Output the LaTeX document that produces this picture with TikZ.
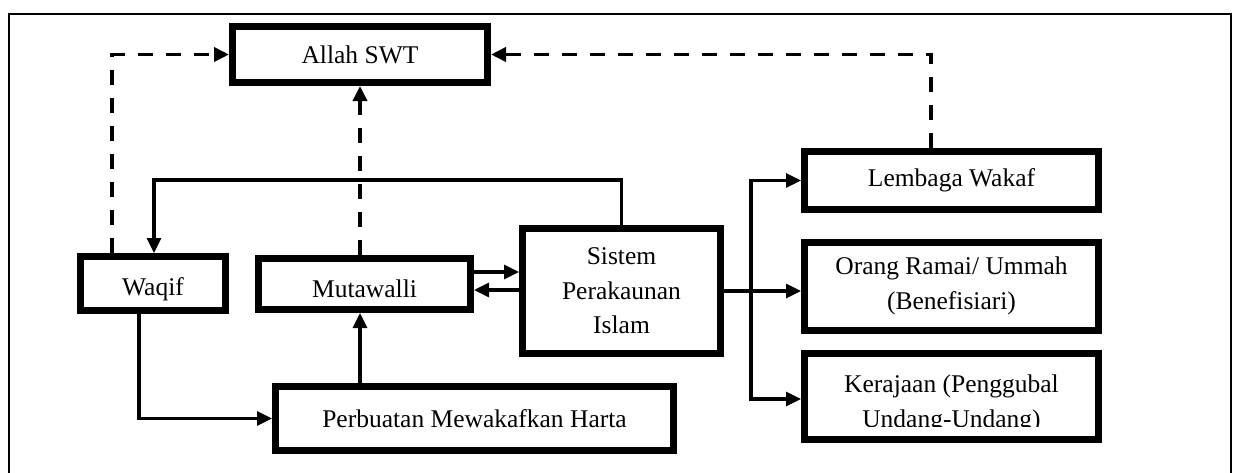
\documentclass[tikz,border=0pt]{standalone}
\usepackage{fontspec}
\setmainfont{Liberation Serif}
\usepackage{tikz}
\usetikzlibrary{positioning, calc, arrows.meta}

\tikzset{
  box/.style={draw, line width=3.5pt, align=center, inner sep=0pt,
    font=\fontsize{12.75}{17.25}\selectfont},
  txt/.style={align=center, inner sep=0pt, font=\fontsize{12.75}{17.25}\selectfont},
  link/.style={line width=1.6pt, -{Triangle[length=7.5pt,width=7pt]}},
  plainlink/.style={line width=1.6pt},
  dashlink/.style={line width=1.8pt, dash pattern=on 7.5pt off 6.5pt,
    -{Triangle[length=7.5pt,width=7pt]}},
  frame/.style={line width=1pt}
}

\begin{document}
\begin{tikzpicture}[x=0.5pt, y=-0.5pt]
    \useasboundingbox (0,0) rectangle (1235,472);

    % Outer frame
    \draw[frame] (9,480) |- (1231,14) -- (1231,480);

    % Boxes
    \node[box, minimum width=127.5pt, minimum height=28pt] (allah) at (360,54.5) {Allah SWT};
    \node[box, minimum width=72.5pt, minimum height=27pt, text height=12pt, text depth=0pt] (waqif) at (153,283.5) {Waqif};
    \node[box, minimum width=106pt, minimum height=25.5pt, text height=13pt, text depth=0pt] (mutawalli) at (364.5,284) {Mutawalli};
    \node[box, minimum width=99pt, minimum height=62.5pt] (sistem) at (621.5,291) {Sistem\\Perakaunan\\Islam};
    \node[box, minimum width=199pt, minimum height=32pt] (perbuatan) at (474.5,418.5) {Perbuatan Mewakafkan Harta};
    \node[box, minimum width=147pt, minimum height=29pt] (lembaga) at (951.5,180.5) {Lembaga Wakaf};
    \node[box, minimum width=147pt, minimum height=44pt] (orang) at (951.5,286) {Orang Ramai/ Ummah\\(Benefisiari)};

    % Kerajaan box, second line cut off at the bottom
    \begin{scope}
      \clip (806,354) rectangle (1097,426);
      \node[txt] (kerajaantext) at (951.5,404) {Kerajaan (Penggubal\\Undang-Undang)};
    \end{scope}
    \node[box, minimum width=147pt, minimum height=43pt] (kerajaan) at (951.5,396.5) {};

    % Turning points of the connectors
    \coordinate (dashL) at (112,55);
    \coordinate (dashR) at (931,55);
    \coordinate (loopTop) at (154,180);
    \coordinate (waqifDown) at (139,0);
    \coordinate (splitX) at (751,0);
    \coordinate (mutOut) at ($(mutawalli.east)+(0,-12)$);
    \coordinate (sisOut) at ($(sistem.west)+(0,-1)$);

    % Dashed links up to Allah SWT
    \draw[dashlink] (waqif.north -| dashL) |- (allah.west);
    \draw[dashlink] (mutawalli.north -| allah.south) -- (allah.south);
    \draw[dashlink] (lembaga.north -| dashR) |- (allah.east);

    % Solid links
    \draw[link] (sistem.north) |- (loopTop) -- (waqif.north -| loopTop);
    \draw[link] (waqif.south -| waqifDown) |- (perbuatan.west);
    \draw[link] (perbuatan.north -| allah.south) -- (mutawalli.south -| allah.south);
    \draw[link] (mutOut) -- (mutOut -| sistem.west);
    \draw[link] (sisOut) -- (sisOut -| mutawalli.east);

    % Branches to the right
    \draw[plainlink] (sistem.east) -- (sistem.east -| splitX);
    \draw[link] (sistem.east -| splitX) -- (sistem.east -| orang.west);
    \foreach \t/\dy in {lembaga/0, kerajaan/2.5} {
      \draw[link] (sistem.east -| splitX) |- ($(\t.west)+(0,\dy)$);
    }
\end{tikzpicture}
\end{document}
